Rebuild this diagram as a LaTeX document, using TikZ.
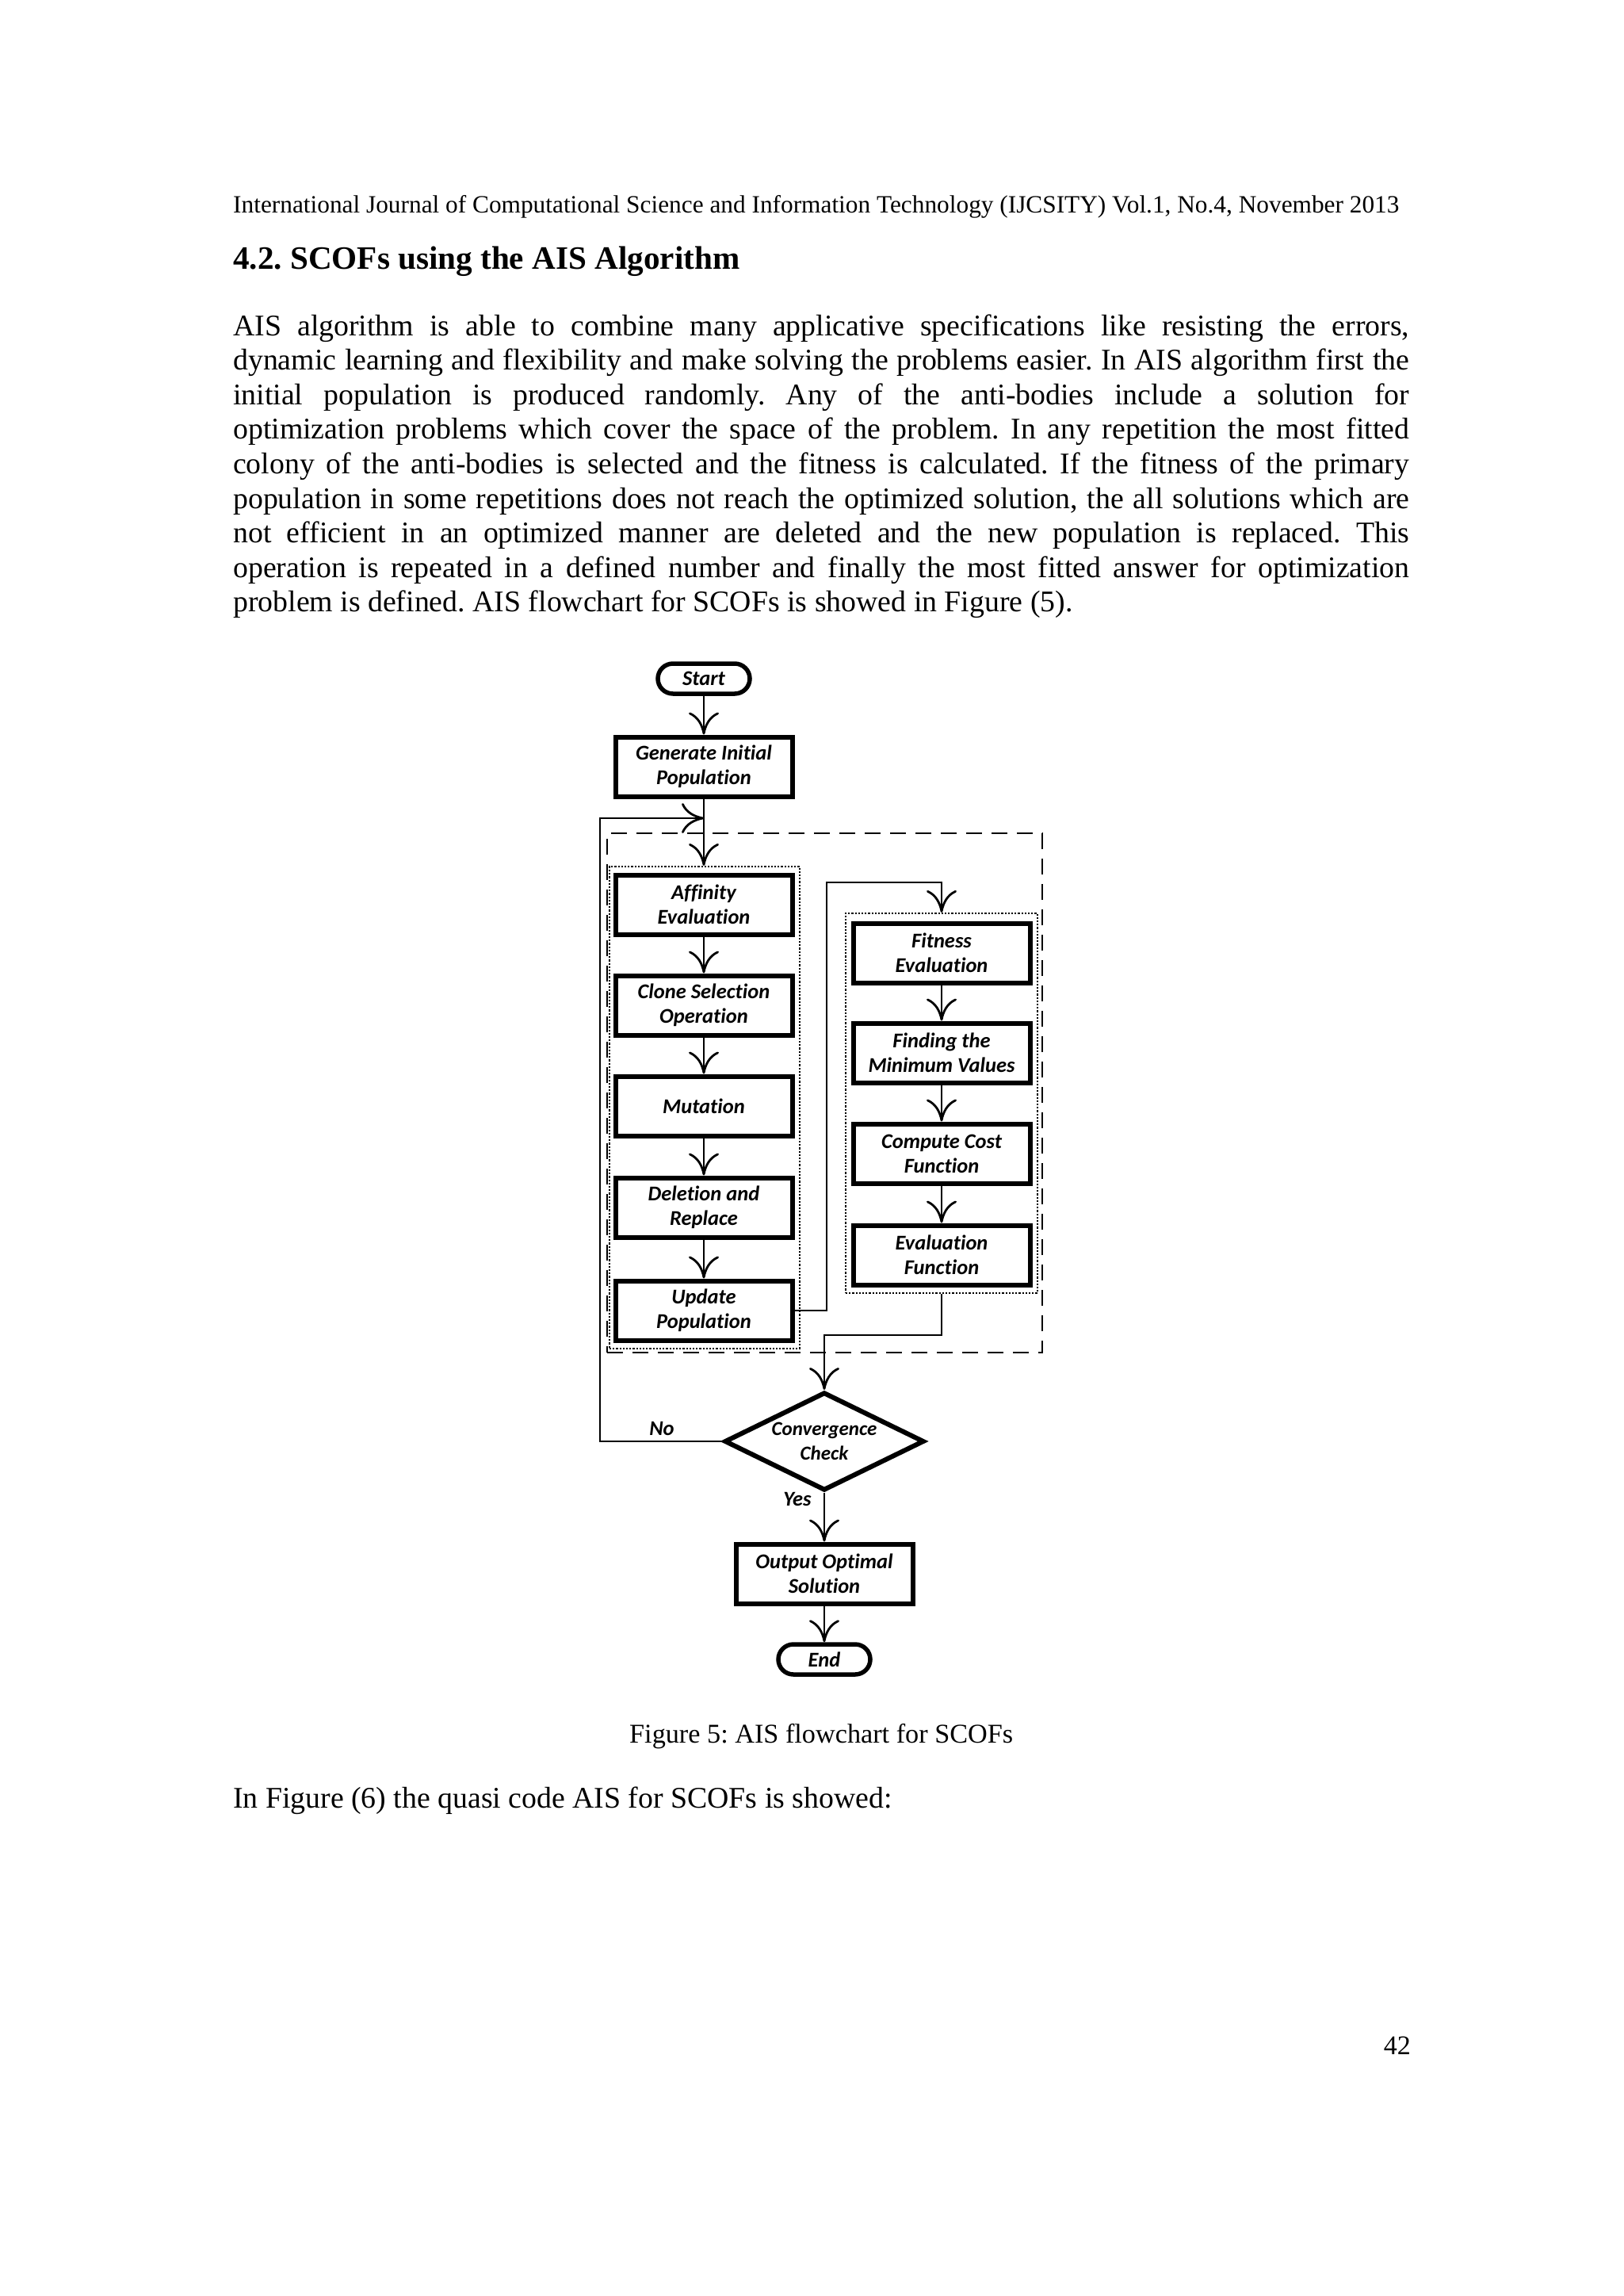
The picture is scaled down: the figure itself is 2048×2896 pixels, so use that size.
\documentclass[tikz,border=0pt]{standalone}
\usepackage{fontspec}
\usepackage{graphicx}
\setmainfont{Liberation Serif}
\newfontfamily\chartfont{Carlito}[Ligatures={NoCommon}]
\usetikzlibrary{arrows.meta,shapes.geometric}
\frenchspacing
\begin{document}
\begin{tikzpicture}[x=1pt,y=-1pt,
  chfont/.style={font={\chartfont\bfseries\itshape\fontsize{26.5pt}{31pt}\selectfont}},
  box/.style={chfont, draw, line width=6pt, minimum width=223pt, minimum height=75pt, inner sep=1pt, align=center},
  term/.style={chfont, draw, line width=5.5pt, rounded corners=19pt, minimum width=116pt, minimum height=38pt, inner sep=1pt},
  decision/.style={draw, diamond, aspect=2, line width=6pt, minimum width=252pt, minimum height=124pt, inner sep=0pt, align=center, font={\chartfont\bfseries\itshape\fontsize{25pt}{31pt}\selectfont}},
  dotbox/.style={draw, dotted, line width=2.2pt, inner sep=0pt},
  dashbox/.style={draw, dash pattern=on 20pt off 12pt, line width=2.5pt, inner sep=0pt},
  arr/.style={line width=2.8pt, -{Computer Modern Rightarrow[length=28pt, width=38pt, line width=2.8pt]}},
  lbl/.style={chfont, inner sep=0pt},
  body/.style={anchor=base west, inner sep=0pt, font=\fontsize{37.8pt}{43.6pt}\selectfont},
]
\useasboundingbox[fill=white] (0,0) rectangle (2048,2896);

% header and text
\node[anchor=base west, inner sep=0pt] (hdr) at (294,268) {\resizebox{1471pt}{!}{International Journal of Computational Science and Information Technology (IJCSITY) Vol.1, No.4, November 2013}};
\node[anchor=base west, inner sep=0pt] (sec) at (294,339) {\resizebox{639pt}{!}{\bfseries 4.2. SCOFs using the AIS Algorithm}};

\node[body] (p1) at (294,423) {\makebox[1484pt][s]{AIS algorithm is able to combine many applicative specifications like resisting the errors,}};
\node[body] (p2) at (294,466.6) {\makebox[1484pt][s]{dynamic learning and flexibility and make solving the problems easier. In AIS algorithm first the}};
\node[body] (p3) at (294,510.2) {\makebox[1484pt][s]{initial population is produced randomly. Any of the anti-bodies include a solution for}};
\node[body] (p4) at (294,553.8) {\makebox[1484pt][s]{optimization problems which cover the space of the problem. In any repetition the most fitted}};
\node[body] (p5) at (294,597.4) {\makebox[1484pt][s]{colony of the anti-bodies is selected and the fitness is calculated. If the fitness of the primary}};
\node[body] (p6) at (294,641) {\makebox[1484pt][s]{population in some repetitions does not reach the optimized solution, the all solutions which are}};
\node[body] (p7) at (294,684.6) {\makebox[1484pt][s]{not efficient in an optimized manner are deleted and the new population is replaced. This}};
\node[body] (p8) at (294,728.2) {\makebox[1484pt][s]{operation is repeated in a defined number and finally the most fitted answer for optimization}};
\node[body] (p9) at (294,771.8) {problem is defined. AIS flowchart for SCOFs is showed in Figure (5).};

\node[anchor=base west, inner sep=0pt] (cap) at (794,2198) {\resizebox{484pt}{!}{Figure 5: AIS flowchart for SCOFs}};
\node[body] (p10) at (294,2280) {In Figure (6) the quasi code AIS for SCOFs is showed:};
\node[anchor=base east, inner sep=0pt, font=\fontsize{34pt}{40pt}\selectfont] (pg) at (1780,2591) {42};

% containers
\node[dashbox, minimum width=549pt, minimum height=655pt] (dash) at (1040.5,1378.5) {};
\node[dotbox, minimum width=240pt, minimum height=608pt] (ldot) at (889,1397) {};
\node[dotbox, minimum width=242pt, minimum height=479pt] (rdot) at (1188,1391.5) {};

% nodes
\node[term] (start) at (888,856) {Start};
\node[box] (gen) at (888,967) {Generate Initial\\Population};
\node[box] (aff) at (888,1141) {Affinity\\Evaluation};
\node[box] (clo) at (888,1268) {Clone Selection\\Operation};
\node[box] (mut) at (888,1395) {Mutation};
\node[box] (del) at (888,1523) {Deletion and\\Replace};
\node[box] (upd) at (888,1653) {Update\\Population};
\node[box] (fit) at (1188,1202) {Fitness\\Evaluation};
\node[box] (fmv) at (1188,1328) {Finding the\\Minimum Values};
\node[box] (ccf) at (1188,1455) {Compute Cost\\Function};
\node[box] (evf) at (1188,1583) {Evaluation\\Function};
\node[decision] (conv) at (1040,1818) {Convergence\\Check};
\node[box] (out) at (1040,1985) {Output Optimal\\Solution};
\node[term] (end) at (1040,2093) {End};
\node[lbl] (no) at (835,1802) {No};
\node[lbl] (yes) at (1006,1891) {Yes};

\coordinate (fb) at (888,1032);
\coordinate (loopx) at (757,0);
\coordinate (midx) at (1043,0);
\coordinate (c1) at (1188,1113);
\coordinate (c2) at (1188,1684);

% connectors
\draw[arr] (start) -- (gen);
\draw[arr] (gen.south) -- (gen.south |- ldot.north);
\draw[arr] (conv.west) -- (conv.west -| loopx) |- (fb);
\draw[arr] (aff) -- (clo);
\draw[arr] (clo) -- (mut);
\draw[arr] (mut) -- (del);
\draw[arr] (del) -- (upd);
\draw[arr] (upd.east) -- (upd.east -| midx) |- (c1) -- (c1 |- rdot.north);
\draw[arr] (fit) -- (fmv);
\draw[arr] (fmv) -- (ccf);
\draw[arr] (ccf) -- (evf);
\draw[arr] (rdot.south) -- (c2) -| (conv.north);
\draw[arr] (conv) -- (out);
\draw[arr] (out) -- (end);
\end{tikzpicture}
\end{document}
